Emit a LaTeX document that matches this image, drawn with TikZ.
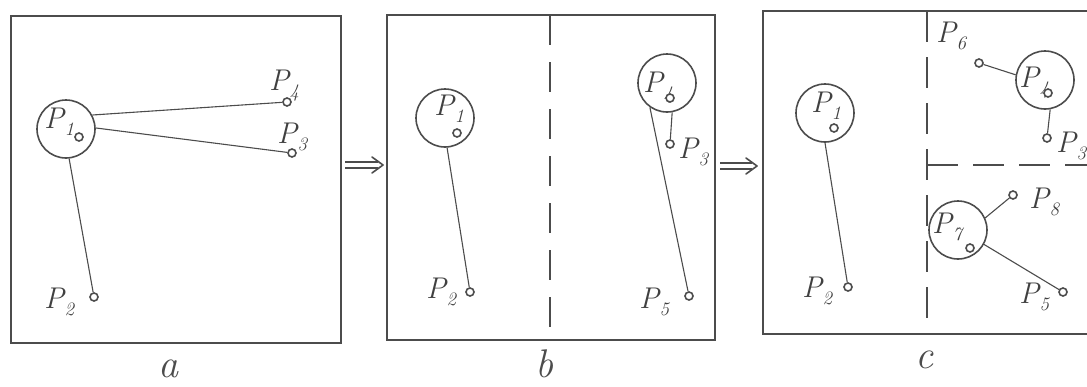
\documentclass[tikz,border=0pt]{standalone}
\newcommand\Plab[1]{\textit{P}\kern-1pt\raisebox{-0.26em}{\fontsize{19}{20}\selectfont\textit{#1}}}
\begin{document}
\begin{tikzpicture}[x=1pt,y=-1pt,
 frame/.style={black!70, line width=2.8pt},
 partb/.style={black!70, line width=2.4pt, dash pattern=on 30pt off 17pt},
 partc/.style={black!70, line width=2pt, dash pattern=on 31pt off 15pt},
 big/.style={circle, draw=black!70, line width=1.6pt, minimum size=58pt, inner sep=0pt},
 pt/.style={circle, draw=black!70, line width=1.6pt, fill=white, minimum size=8pt, inner sep=0pt},
 link/.style={black!70, line width=1.1pt},
 lab/.style={anchor=base west, inner sep=0pt, text=black!75, font=\fontsize{30}{32}\selectfont},
 panellab/.style={anchor=base west, inner sep=0pt, text=black!70, font=\fontsize{40}{44}\selectfont\itshape},
 impline/.style={black!70, line width=1.2pt},
 imphead/.style={black!70, line width=1.6pt, line cap=round, line join=round}
]
\useasboundingbox (0,0) rectangle (1087,386);

% ---------- panel a ----------
\draw[frame] (11,16) rectangle (341,343);
\node[big] (a1) at (66,129) {};
\node[lab] (la1) at (44,128) {\Plab{1}};
\node[pt] (a1d) at (79,137) {};
\node[pt] (a4) at (287,102) {};
\node[pt] (a3) at (292,153) {};
\node[pt] (a2) at (94,297) {};
\draw[link] (a1.28) -- (a4);
\draw[link] (a1.2) -- (a3);
\draw[link] (a1.-84) -- (a2);
\node[lab] (la4) at (269,90) {\Plab{4}};
\node[lab] (la3) at (277,143) {\Plab{3}};
\node[lab] (la2) at (44,308) {\Plab{2}};
\node[panellab] (capa) at (158,377) {a};

% arrow a -> b
\coordinate (ab) at (345,165);
\draw[impline] ([yshift=-3pt]ab) -- ++(33,0);
\draw[impline] ([yshift=3pt]ab) -- ++(33,0);
\draw[imphead] ([shift={(27,-8)}]ab) -- ([shift={(38,0)}]ab) -- ([shift={(27,8)}]ab);

% ---------- panel b ----------
\draw[frame] (387,15) rectangle (715,340);
\coordinate (bt) at (550,15);
\coordinate (bb) at (550,340);
\draw[partb] (bt) -- (bb);
\node[big] (b1) at (445,118) {};
\node[lab] (lb1) at (434,115) {\Plab{1}};
\node[pt] (b1d) at (457,133) {};
\node[pt] (b2) at (470,292) {};
\draw[link] (b1.-86) -- (b2);
\node[lab] (lb2) at (426,298) {\Plab{2}};
\node[big] (b4) at (667,83) {};
\node[lab] (lb4) at (643,92) {\Plab{4}};
\node[pt] (b4d) at (670,98) {};
\node[pt] (b3) at (670,144) {};
\node[pt] (b5) at (689,296) {};
\draw[link] (b4.-80) -- (b3);
\draw[link] (b4.-125) -- (b5);
\node[lab] (lb3) at (678,158) {\Plab{3}};
\node[lab] (lb5) at (639,308) {\Plab{5}};
\node[panellab] (capb) at (535,377) {b};

% arrow b -> c
\coordinate (bc) at (720,166);
\draw[impline] ([yshift=-3pt]bc) -- ++(32,0);
\draw[impline] ([yshift=3pt]bc) -- ++(32,0);
\draw[imphead] ([shift={(26,-8)}]bc) -- ([shift={(37,0)}]bc) -- ([shift={(26,8)}]bc);

% ---------- panel c ----------
\draw[frame] (1095,11) -- (763,11) -- (763,334) -- (1095,334);
\coordinate (ct) at (927,11);
\coordinate (cb) at (927,323);
\coordinate (cm) at (927,165);
\coordinate (cr) at (1090,165);
\draw[partc] (ct) -- (cb);
\draw[partc] (cm) -- (cr);
\node[big] (c1) at (825,113) {};
\node[lab] (lc1) at (811,112) {\Plab{1}};
\node[pt] (c1d) at (834,128) {};
\node[pt] (c2) at (848,287) {};
\draw[link] (c1.-90) -- (c2);
\node[lab] (lc2) at (802,297) {\Plab{2}};
\node[lab] (lc6) at (936,42) {\Plab{6}};
\node[pt] (c6) at (979,63) {};
\node[big] (c4) at (1045,80) {};
\node[lab] (lc4) at (1019,87) {\Plab{4}};
\node[pt] (c4d) at (1048,93) {};
\node[pt] (c3) at (1047,138) {};
\draw[link] (c6) -- (c4.170);
\draw[link] (c4.-80) -- (c3);
\node[lab] (lc3) at (1056,152) {\Plab{3}};
\node[big] (c7) at (958,230) {};
\node[lab] (lc7) at (932,233) {\Plab{7}};
\node[pt] (c7d) at (970,248) {};
\node[pt] (c8) at (1013,195) {};
\node[pt] (c5) at (1063,292) {};
\draw[link] (c7.24) -- (c8);
\draw[link] (c7.-29) -- (c5);
\node[lab] (lc8) at (1029,208) {\Plab{8}};
\node[lab] (lc5) at (1019,303) {\Plab{5}};
\node[panellab] (capc) at (915,368) {c};
\end{tikzpicture}
\end{document}
